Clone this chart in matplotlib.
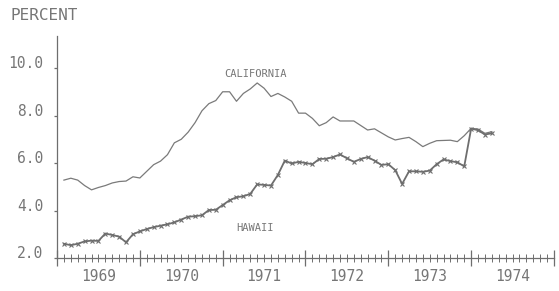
import numpy as np
import matplotlib
matplotlib.use("Agg")
import matplotlib.pyplot as plt

# monthly unemployment rates, Feb 1969 - Apr 1974
start_year = 1969
start_month = 2  # February
california = [5.28, 5.36, 5.28, 5.05, 4.87, 4.97, 5.05, 5.16, 5.22, 5.24,
              5.42, 5.37, 5.65, 5.93, 6.08, 6.35, 6.85, 7.00, 7.30, 7.70,
              8.20, 8.50, 8.63, 9.00, 9.00, 8.60, 8.93, 9.12, 9.37, 9.15,
              8.80, 8.93, 8.78, 8.60, 8.10, 8.10, 7.88, 7.57, 7.70, 7.94,
              7.77, 7.77, 7.77, 7.58, 7.39, 7.44, 7.27, 7.10, 6.97, 7.03,
              7.08, 6.90, 6.69, 6.83, 6.94, 6.95, 6.96, 6.90, 7.15, 7.46,
              7.43, 7.25, 7.32]
hawaii = [2.60, 2.54, 2.60, 2.70, 2.73, 2.72, 3.03, 2.97, 2.90, 2.66,
          3.00, 3.12, 3.22, 3.30, 3.36, 3.42, 3.50, 3.62, 3.74, 3.76,
          3.80, 4.02, 4.03, 4.23, 4.43, 4.56, 4.60, 4.70, 5.10, 5.08,
          5.05, 5.50, 6.10, 5.98, 6.05, 6.00, 5.95, 6.17, 6.18, 6.25,
          6.36, 6.20, 6.05, 6.17, 6.25, 6.10, 5.92, 5.95, 5.70, 5.12,
          5.65, 5.65, 5.63, 5.68, 5.95, 6.15, 6.08, 6.03, 5.86, 7.45,
          7.38, 7.20, 7.25]
years = [1969, 1970, 1971, 1972, 1973, 1974]
y_ticks = [2.0, 4.0, 6.0, 8.0, 10.0]

t = start_year + (start_month - 1 + np.arange(len(california))) / 12.0

gray = "#6e6e6e"
text_gray = "#767676"
font = "DejaVu Sans Mono"

fig = plt.figure(figsize=(5.59, 2.91), dpi=100)
ax = fig.add_axes([0.102, 0.1134, 0.889, 0.763])

ax.plot(t, california, color="#7a7a7a", lw=0.9)
ax.plot(t, hawaii, color=gray, lw=1.3, marker="x", ms=2.5, mew=0.8)

ax.set_xlim(1969.0, 1975.0)
ax.set_ylim(2.0, 11.35)

for s in ["top", "right"]:
    ax.spines[s].set_visible(False)
for s in ["left", "bottom"]:
    ax.spines[s].set_color(gray)
    ax.spines[s].set_linewidth(0.9)

# x axis: year boundaries long, months short
ax.set_xticks(np.arange(1969, 1976))
ax.set_xticklabels([])
ax.set_xticks(np.arange(1969, 1975, 1 / 12.0), minor=True)
ax.tick_params(axis="x", which="major", direction="inout", length=12, width=0.9, color=gray)
ax.tick_params(axis="x", which="minor", direction="inout", length=6, width=0.7, color=gray)
for yr in years:
    ax.text(yr + 0.5, -0.05, str(yr), transform=ax.get_xaxis_transform(),
            ha="center", va="top", fontsize=10.5, family=font, color=text_gray)

# y axis
ax.set_yticks(y_ticks)
ax.set_yticklabels([f"{v:.1f}" for v in y_ticks], fontsize=10.5, family=font, color=text_gray)
for lbl in ax.get_yticklabels():
    lbl.set_verticalalignment("baseline")
ax.tick_params(axis="y", direction="out", length=2, width=0.9, color=gray, pad=8)

ax.text(1971.40, 9.75, "CALIFORNIA", ha="center", va="center", fontsize=7.5,
        family=font, color=text_gray)
ax.text(1971.39, 3.26, "HAWAII", ha="center", va="center", fontsize=7.5,
        family=font, color=text_gray)
fig.text(0.018, 0.948, "PERCENT", ha="left", va="center", fontsize=11.5,
         family=font, color=text_gray)

fig.savefig("out.png", dpi=100)
